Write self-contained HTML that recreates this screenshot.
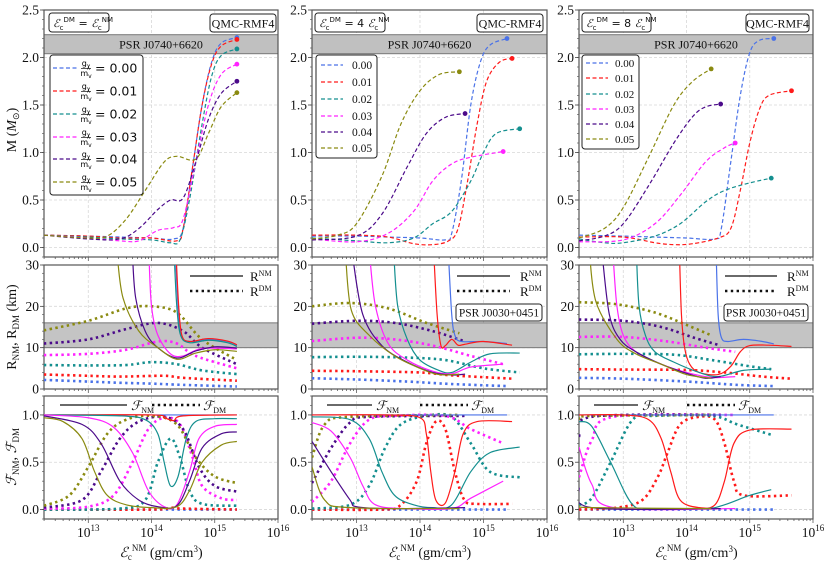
<!DOCTYPE html>
<html><head><meta charset="utf-8">
<style>
body{margin:0;background:#fff;}
svg{display:block;font-family:"Liberation Serif",serif;}
</style></head>
<body>
<svg id="fig" width="831" height="567" viewBox="0 0 831 567" xmlns="http://www.w3.org/2000/svg"></svg>
<script>
// ---------- DATA (log10 central energy density, value) ----------
const seriesLabels = ["0.00","0.01","0.02","0.03","0.04","0.05"];
const seriesColors = ["#4a72e8","#ff1a1a","#148f8f","#ff22ff","#4b0a8a","#8a8a10"];
const xTickLabels = ["13","14","15","16"];
const xTickValues = [13,14,15,16];

const massCol1 = [
 [[12.3,.13],[13,.12],[13.5,.11],[14,.10],[14.35,.09],[14.5,.2],[14.65,.85],[14.8,1.5],[14.95,1.95],[15.1,2.15],[15.35,2.21]],
 [[12.3,.13],[13,.12],[13.5,.10],[14,.10],[14.4,.07],[14.5,.2],[14.65,.85],[14.8,1.5],[14.95,1.93],[15.1,2.12],[15.35,2.19]],
 [[12.3,.13],[13,.11],[13.5,.09],[14,.08],[14.3,.05],[14.45,.08],[14.6,.5],[14.8,1.3],[14.95,1.8],[15.1,2.02],[15.35,2.09]],
 [[12.3,.13],[13,.1],[13.5,.07],[13.8,.07],[14.1,.18],[14.35,.21],[14.5,.3],[14.7,.9],[14.9,1.5],[15.1,1.82],[15.35,1.93]],
 [[12.3,.13],[13,.09],[13.5,.09],[13.8,.2],[14.1,.4],[14.3,.5],[14.5,.52],[14.7,.9],[14.9,1.35],[15.1,1.62],[15.35,1.75]],
 [[12.3,.13],[13,.1],[13.3,.12],[13.6,.3],[13.9,.6],[14.2,.9],[14.4,.96],[14.7,.93],[14.9,1.2],[15.1,1.48],[15.35,1.63]]
];
const massCol2 = [
 [[12.3,.12],[13,.12],[13.5,.11],[14,.1],[14.4,.08],[14.5,.15],[14.65,.7],[14.8,1.5],[14.95,1.95],[15.1,2.13],[15.37,2.2]],
 [[12.3,.13],[13,.13],[13.5,.11],[13.9,.04],[14.2,.03],[14.45,.07],[14.6,.2],[14.75,.7],[14.9,1.3],[15.05,1.75],[15.25,1.95],[15.45,1.99]],
 [[12.3,.1],[13,.07],[13.5,.05],[13.9,.1],[14.2,.25],[14.5,.38],[14.8,.7],[15.0,1.0],[15.2,1.2],[15.57,1.25]],
 [[12.3,.09],[13,.06],[13.5,.15],[13.9,.38],[14.2,.7],[14.5,.88],[14.8,.95],[15.31,1.01]],
 [[12.3,.08],[13,.12],[13.4,.35],[13.8,.85],[14.1,1.2],[14.4,1.37],[14.71,1.41]],
 [[12.3,.09],[12.7,.13],[13,.25],[13.4,.75],[13.7,1.3],[14.0,1.65],[14.3,1.82],[14.62,1.85]]
];
const massCol3 = [
 [[12.3,.13],[13,.12],[13.5,.11],[14,.1],[14.45,.09],[14.55,.2],[14.7,.9],[14.85,1.6],[15,2.05],[15.15,2.18],[15.38,2.2]],
 [[12.3,.11],[13,.11],[13.5,.05],[13.8,.03],[14.1,.04],[14.5,.1],[14.7,.2],[14.85,.6],[15.0,1.1],[15.15,1.45],[15.3,1.6],[15.66,1.65]],
 [[12.3,.09],[12.7,.05],[13,.05],[13.5,.12],[13.9,.25],[14.3,.48],[14.6,.6],[15.0,.68],[15.34,.73]],
 [[12.3,.06],[13,.08],[13.5,.25],[13.9,.55],[14.3,.9],[14.6,1.05],[14.77,1.1]],
 [[12.3,.07],[12.7,.12],[13,.25],[13.4,.65],[13.8,1.1],[14.1,1.38],[14.3,1.48],[14.54,1.51]],
 [[12.3,.1],[12.7,.2],[13,.42],[13.4,.95],[13.8,1.5],[14.1,1.75],[14.39,1.88]]
];
const rNMCol1 = [
 [[14.38,32],[14.42,20],[14.47,13],[14.6,11.5],[14.9,12],[15.2,11.5],[15.35,10.6]],
 [[14.39,32],[14.43,20],[14.48,13],[14.6,11.5],[14.9,12.2],[15.2,11.6],[15.35,10.7]],
 [[14.36,32],[14.4,20],[14.46,13],[14.6,11.2],[14.9,11.8],[15.2,11.2],[15.35,10.3]],
 [[13.96,32],[14.0,20],[14.1,13],[14.3,8.5],[14.5,8],[14.8,9.8],[15.35,9.7]],
 [[13.7,32],[13.75,22],[13.9,14],[14.1,10],[14.4,7.5],[14.7,9.2],[15.0,10.2],[15.35,9.9]],
 [[13.46,32],[13.55,22],[13.8,14],[14.1,10],[14.4,7.2],[14.7,8.7],[15.0,9.5],[15.35,9.1]]
];
const rDMCol1 = [
 [[12.3,2.2],[13,1.8],[13.5,1.5],[14,1.3],[14.5,1],[15.35,0.6]],
 [[12.3,3.5],[13,3.2],[13.5,3],[14.2,3.2],[14.5,2.7],[15.35,2]],
 [[12.3,5.8],[13,5.7],[13.6,5.8],[14.0,6.5],[14.4,6],[14.8,4.5],[15.35,3.6]],
 [[12.3,8.2],[13,8.5],[13.6,9.5],[14.1,11.5],[14.4,11],[14.7,8],[15.35,5]],
 [[12.3,11],[13,12],[13.6,14.5],[14.1,16],[14.5,14],[14.8,10],[15.35,6]],
 [[12.3,14.2],[13,16.5],[13.6,19.5],[14.0,20],[14.4,18.5],[14.8,12],[15.35,7]]
];
const rNMCol2 = [
 [[14.45,32],[14.5,18],[14.55,13],[14.65,11.5],[15.0,11.5],[15.37,11]],
 [[14.22,32],[14.27,18],[14.33,10.5],[14.4,10.5],[14.5,12],[14.6,10.6],[14.7,10.8],[15.0,11.5],[15.45,10.6]],
 [[13.59,32],[13.65,20],[13.8,12],[14.0,7],[14.3,4.5],[14.5,4],[14.8,6.5],[15.1,8.5],[15.57,8.7]],
 [[13.21,32],[13.3,20],[13.5,11],[13.8,7],[14.2,4.3],[14.5,3.7],[14.8,5.3],[15.31,6]],
 [[12.94,32],[13.1,18],[13.4,10.5],[13.8,6.5],[14.2,4],[14.5,3.4],[14.71,3.6]],
 [[12.83,32],[12.92,19],[13.2,13],[13.6,8],[14.0,5],[14.3,3.5],[14.62,3.6]]
];
const rDMCol2 = [
 [[12.3,2.6],[13,2.3],[13.8,1.8],[14.5,1.2],[15.37,0.7]],
 [[12.3,4.4],[13,4.3],[14,4],[14.5,3.3],[15.45,2.5]],
 [[12.3,7.7],[13,7.8],[13.8,7.6],[14.4,7],[15,5],[15.57,4]],
 [[12.3,11.6],[13,12.4],[13.6,12],[14.2,10.5],[14.8,8],[15.31,6]],
 [[12.3,15.8],[13,16.5],[13.6,16],[14.2,14],[14.71,11.5]],
 [[12.3,20],[12.9,20.8],[13.5,19.5],[14.1,16],[14.62,13.5]]
];
const rNMCol3 = [
 [[14.47,32],[14.5,18],[14.55,12.5],[14.65,11.5],[14.9,12],[15.2,11.5],[15.38,10.9]],
 [[13.89,32],[13.92,18],[13.97,10],[14.05,6],[14.2,4],[14.5,3.5],[14.7,5.5],[14.85,9],[15.0,10.5],[15.3,10.6],[15.66,10.3]],
 [[13.21,32],[13.25,20],[13.35,13],[13.5,9],[13.8,6.5],[14.2,4],[14.5,3],[14.9,4.5],[15.34,4.8]],
 [[12.84,32],[12.9,20],[13,13],[13.2,9],[13.6,6],[14.0,4],[14.4,2.8],[14.77,3]],
 [[12.67,32],[12.78,18],[12.95,12],[13.2,9],[13.6,6],[14,3.8],[14.3,2.6],[14.54,3]],
 [[12.47,32],[12.57,21],[12.9,12],[13.2,8.5],[13.6,6],[14,3.5],[14.39,2.6]]
];
const rDMCol3 = [
 [[12.3,2.7],[13,2.5],[14,1.8],[14.8,1],[15.38,0.7]],
 [[12.3,4.8],[13,4.7],[14,4.6],[14.6,4],[15.2,3],[15.66,2.5]],
 [[12.3,8.4],[13,8.5],[13.8,8.3],[14.4,7],[15,5.5],[15.34,4.8]],
 [[12.3,12.6],[13,12.6],[13.7,11.5],[14.3,10],[14.77,9]],
 [[12.3,16.8],[13,16.5],[13.6,15],[14.1,12.5],[14.54,10.5]],
 [[12.3,21],[12.9,20.5],[13.5,18.5],[14,15.5],[14.39,13]]
];
const fNMCol1 = [
 [[12.3,1],[15.35,1]],
 [[12.3,1],[14,1],[14.2,.97],[14.35,.94],[14.5,.99],[15.35,1]],
 [[12.3,1],[13.5,.99],[13.9,.95],[14.1,.8],[14.2,.5],[14.3,.25],[14.42,.35],[14.55,.75],[14.7,.93],[15,.96],[15.35,.96]],
 [[12.3,1],[13,.97],[13.4,.87],[13.7,.6],[13.95,.2],[14.2,.03],[14.4,.05],[14.6,.4],[14.75,.75],[15,.88],[15.35,.9]],
 [[12.3,.99],[12.9,.9],[13.2,.7],[13.5,.3],[13.8,.1],[14.1,.03],[14.4,.04],[14.6,.3],[14.8,.65],[15.1,.8],[15.35,.82]],
 [[12.3,.97],[12.6,.93],[12.9,.75],[13.1,.4],[13.3,.15],[13.6,.05],[14,.02],[14.4,.03],[14.6,.2],[14.8,.5],[15.1,.68],[15.35,.72]]
];
const fDMCol1 = [
 [[12.3,0],[15.35,0]],
 [[12.3,0],[14,0],[14.3,.02],[14.5,.01],[15.35,0]],
 [[12.3,0],[13.5,.01],[13.9,.1],[14.1,.5],[14.3,.75],[14.45,.55],[14.6,.2],[14.8,.06],[15.35,.04]],
 [[12.3,.01],[13,.03],[13.4,.15],[13.7,.5],[13.95,.85],[14.2,.97],[14.45,.9],[14.65,.55],[14.8,.25],[15.1,.12],[15.35,.1]],
 [[12.3,.02],[12.9,.1],[13.2,.4],[13.5,.75],[13.8,.93],[14.2,.98],[14.5,.85],[14.75,.45],[15.0,.25],[15.35,.19]],
 [[12.3,.04],[12.7,.15],[13.0,.45],[13.3,.8],[13.6,.95],[14.0,.99],[14.4,.9],[14.7,.55],[15.0,.35],[15.35,.28]]
];
const fNMCol2 = [
 [[12.3,1],[15.37,1]],
 [[12.3,1],[13.5,1],[14.0,.97],[14.1,.8],[14.17,.4],[14.25,.1],[14.4,.07],[14.55,.4],[14.68,.8],[14.9,.93],[15.45,.93]],
 [[12.3,.98],[12.9,.95],[13.2,.75],[13.4,.4],[13.6,.15],[13.9,.05],[14.2,.02],[14.5,.05],[14.8,.4],[15.1,.6],[15.57,.66]],
 [[12.3,.92],[12.6,.83],[12.9,.55],[13.1,.25],[13.3,.05],[13.8,.01],[14.5,.01],[14.8,.12],[15.31,.3]],
 [[12.3,.72],[12.6,.4],[12.9,.1],[13.0,.03],[13.5,.01],[14.71,.02]],
 [[12.3,.45],[12.5,.1],[12.9,.02],[14.62,.01]]
];
const fDMCol2 = [
 [[12.3,0],[15.37,0]],
 [[12.3,0],[13.4,0],[13.7,.05],[13.95,.3],[14.1,.7],[14.25,.93],[14.4,.85],[14.55,.4],[14.7,.1],[14.9,.06],[15.45,.06]],
 [[12.3,.01],[12.9,.05],[13.2,.25],[13.45,.65],[13.7,.9],[14.1,.99],[14.5,.98],[14.8,.7],[15.1,.4],[15.57,.34]],
 [[12.3,.08],[12.6,.3],[12.9,.7],[13.2,.95],[13.6,.99],[14.4,.99],[14.8,.85],[15.31,.7]],
 [[12.3,.28],[12.6,.65],[12.9,.92],[13.2,.98],[14.71,.99]],
 [[12.3,.55],[12.5,.9],[12.9,.98],[14.62,1]]
];
const fNMCol3 = [
 [[12.3,1],[15.38,1]],
 [[12.3,1],[13.0,1],[13.4,.95],[13.6,.75],[13.75,.4],[13.9,.1],[14.2,.02],[14.45,.05],[14.6,.3],[14.75,.7],[15.0,.84],[15.66,.85]],
 [[12.3,.93],[12.5,.88],[12.8,.5],[13.15,.05],[13.5,.01],[14.3,.01],[14.6,.05],[15.0,.15],[15.34,.21]],
 [[12.3,.66],[12.5,.27],[12.85,.02],[14.77,.01]],
 [[12.3,.23],[12.5,.02],[14.54,.01]],
 [[12.3,.04],[12.5,.02],[14.39,.01]]
];
const fDMCol3 = [
 [[12.3,0],[15.38,0]],
 [[12.3,0],[12.9,.02],[13.3,.1],[13.55,.35],[13.7,.6],[13.9,.9],[14.2,.98],[14.45,.95],[14.6,.7],[14.75,.3],[14.9,.15],[15.66,.15]],
 [[12.3,.05],[12.5,.12],[12.8,.5],[13.15,.95],[13.5,.99],[14.4,.99],[14.8,.9],[15.34,.79]],
 [[12.3,.34],[12.5,.73],[12.85,.98],[14.77,1]],
 [[12.3,.77],[12.5,.98],[14.54,1]],
 [[12.3,.96],[12.5,.99],[14.39,1]]
];

// ---------- LAYOUT ----------
const NS="http://www.w3.org/2000/svg";
const svg=document.getElementById('fig');
const cols=[{x0:44,x1:278},{x0:312,x1:547},{x0:579,x1:813}];
const rows=[{y0:10,y1:257,min:-0.1,max:2.5},{y0:265,y1:389,min:0,max:30},{y0:396,y1:519,min:-0.1,max:1.2}];
const XMIN=12.3, XMAX=16;
function xs(c,v){return cols[c].x0+(v-XMIN)/(XMAX-XMIN)*(cols[c].x1-cols[c].x0);}
function ys(r,v){const R=rows[r];return R.y1-(v-R.min)/(R.max-R.min)*(R.y1-R.y0);}
function mk(tag,attrs,parent){const e=document.createElementNS(NS,tag);for(const k in attrs)e.setAttribute(k,attrs[k]);(parent||svg).appendChild(e);return e;}
function txt(x,y,s,attrs,parent){const t=mk('text',Object.assign({x:x,y:y},attrs||{}),parent);t.innerHTML=s;return t;}
function pathD(pts){
  let d=`M${pts[0][0].toFixed(2)},${pts[0][1].toFixed(2)}`;
  for(let i=0;i<pts.length-1;i++){
    const p0=pts[i-1]||pts[i],p1=pts[i],p2=pts[i+1],p3=pts[i+2]||p2;
    const c1=[p1[0]+(p2[0]-p0[0])/6,p1[1]+(p2[1]-p0[1])/6];
    const c2=[p2[0]-(p3[0]-p1[0])/6,p2[1]-(p3[1]-p1[1])/6];
    d+=`C${c1[0].toFixed(2)},${c1[1].toFixed(2)} ${c2[0].toFixed(2)},${c2[1].toFixed(2)} ${p2[0].toFixed(2)},${p2[1].toFixed(2)}`;
  }
  return d;
}
const defs=mk('defs',{});
for(let c=0;c<3;c++)for(let r=0;r<3;r++){
  const cp=mk('clipPath',{id:`clip${c}${r}`},defs);
  mk('rect',{x:cols[c].x0,y:rows[r].y0,width:cols[c].x1-cols[c].x0,height:rows[r].y1-rows[r].y0},cp);
}
const yTicks=[[0,0.5,1,1.5,2,2.5],[0,10,20,30],[0,0.5,1]];
const yTickText=[["0.0","0.5","1.0","1.5","2.0","2.5"],["0","10","20","30"],["0.0","0.5","1.0"]];
const yMinorStep=[0.1,2,0.1];

for(let c=0;c<3;c++)for(let r=0;r<3;r++){
  const g=mk('g',{});
  
  
  const X0=cols[c].x0,X1=cols[c].x1,Y0=rows[r].y0,Y1=rows[r].y1;
  // grid
  xTickValues.forEach(v=>{if(v<XMAX)mk('line',{x1:xs(c,v),x2:xs(c,v),y1:Y0,y2:Y1,stroke:'#d8d8d8','stroke-width':0.8,'stroke-dasharray':'3,2'},g);});
  yTicks[r].forEach(v=>{if(v>rows[r].min&&v<rows[r].max)mk('line',{x1:X0,x2:X1,y1:ys(r,v),y2:ys(r,v),stroke:'#d8d8d8','stroke-width':0.8,'stroke-dasharray':'3,2'},g);});
  // bands
  if(r===0){
    const b=mk('rect',{x:X0,y:ys(0,2.24),width:X1-X0,height:ys(0,2.04)-ys(0,2.24),fill:'#c0c0c0',stroke:'#777','stroke-width':1},g);
    
    
    const t=txt((X0+X1)/2,ys(0,2.14)+4.5,'PSR J0740+6620',{'text-anchor':'middle','font-size':12,fill:'#111'},g);
    
    
  }
  if(r===1){
    const b=mk('rect',{x:X0,y:ys(1,16),width:X1-X0,height:ys(1,10)-ys(1,16),fill:'#c4c4c4',stroke:'#777','stroke-width':1},g);
    
    
  }
  // ticks
  for(let d=12;d<16;d++)for(let k=1;k<10;k++){const v=d+Math.log10(k);if(v<XMIN||v>XMAX)continue;
    mk('line',{x1:xs(c,v),x2:xs(c,v),y1:Y1,y2:Y1+(k===1?4:2),stroke:'#444','stroke-width':0.7},g);}
  mk('line',{x1:xs(c,16),x2:xs(c,16),y1:Y1,y2:Y1+4,stroke:'#444','stroke-width':0.7},g);
  for(let v=rows[r].min;v<=rows[r].max+1e-6;v+=yMinorStep[r]){mk('line',{x1:X0-2,x2:X0,y1:ys(r,v),y2:ys(r,v),stroke:'#444','stroke-width':0.6},g);}
  yTicks[r].forEach((v,i)=>{
    mk('line',{x1:X0-4,x2:X0,y1:ys(r,v),y2:ys(r,v),stroke:'#444','stroke-width':0.8},g);
    const t=txt(X0-5,ys(r,v)+4.5,yTickText[r][i],{'text-anchor':'end','font-size':13.5,fill:'#111'},g);
    
    
  });
  if(r===2){
    xTickValues.forEach((v,i)=>{
      const t=txt(xs(c,v),537,`10<tspan dy="-6" font-size="9">${xTickLabels[i]}</tspan>`,{'text-anchor':'middle','font-size':13.5,fill:'#111'},g);
      
      
    });
    const xl=txt((X0+X1)/2,557,`<tspan font-style="italic">ℰ</tspan><tspan font-size="9" dy="3">c</tspan><tspan font-size="9" dy="-9">NM</tspan><tspan dy="6"> (gm/cm</tspan><tspan font-size="9" dy="-5">3</tspan><tspan dy="5">)</tspan>`,{'text-anchor':'middle','font-size':14,fill:'#111'},g);
    
    
  }
  mk('rect',{x:X0,y:Y0,width:X1-X0,height:Y1-Y0,fill:'none',stroke:'#555','stroke-width':1.2},g);
}

// ---------- SERIES ----------
const massCols=[massCol1,massCol2,massCol3];
const rNM=[rNMCol1,rNMCol2,rNMCol3], rDM=[rDMCol1,rDMCol2,rDMCol3];
const fNM=[fNMCol1,fNMCol2,fNMCol3], fDM=[fDMCol1,fDMCol2,fDMCol3];
function drawSeries(c,r,data,style,nameBase){
  const g=mk('g',{'clip-path':`url(#clip${c}${r})`});
  data.forEach((ser,i)=>{
    const pts=ser.map(p=>[xs(c,p[0]),ys(r,p[1])]);
    const a={d:pathD(pts),fill:'none',stroke:seriesColors[i]};
    if(style==='dash'){a['stroke-width']=1.2;a['stroke-dasharray']='4,2.5';}
    else if(style==='dot'){a['stroke-width']=2.6;a['stroke-dasharray']='2.4,3.4';}
    else{a['stroke-width']=1.2;}
    const p=mk('path',a,g);
    
    
  });
}
for(let c=0;c<3;c++){
  drawSeries(c,1,rDM[c],'dot','radius-dm');
  drawSeries(c,1,rNM[c],'solid','radius-nm');
  drawSeries(c,2,fDM[c],'dot','fraction-dm');
  drawSeries(c,2,fNM[c],'solid','fraction-nm');
  drawSeries(c,0,massCols[c],'dash','mass-curve');
  massCols[c].forEach((ser,i)=>{
    const last=ser[ser.length-1];
    const m=mk('circle',{cx:xs(c,last[0]),cy:ys(0,last[1]),r:2.4,fill:seriesColors[i]});
    
    
  });
}

// ---------- LEGENDS & ANNOTATIONS ----------
function box(x,y,w,h,name,rx){const b=mk('rect',{x:x,y:y,width:w,height:h,rx:rx||3,fill:'#fff',stroke:'#222','stroke-width':1});
  return b;}
// col1 legend
box(50,55,93,140,'mass-legend-col1');
[68,91,114,137,159,182].forEach((y,i)=>{
  mk('line',{x1:53,x2:77,y1:y,y2:y,stroke:seriesColors[i],'stroke-width':1.3,'stroke-dasharray':'4,2.5'});
  const t1=txt(86,y-2,'g<tspan font-size="6" dy="2">χ</tspan>',{'text-anchor':'middle','font-size':8,'font-family':'DejaVu Sans, sans-serif'});
  mk('line',{x1:81,x2:91,y1:y+0.5,y2:y+0.5,stroke:'#111','stroke-width':0.7});
  txt(86,y+8,'m<tspan font-size="6" dy="2">v</tspan>',{'text-anchor':'middle','font-size':8,'font-family':'DejaVu Sans, sans-serif'});
  const t=txt(95,y+4.5,'= '+seriesLabels[i],{'font-size':12.5,'font-family':'DejaVu Sans, sans-serif',fill:'#111'});
  
});
// col2 legend
box(316,55,61,103,'mass-legend-col2');
[65,82,99,116,132,148].forEach((y,i)=>{
  mk('line',{x1:321,x2:343,y1:y,y2:y,stroke:seriesColors[i],'stroke-width':1.3,'stroke-dasharray':'4,2.5'});
  const t=txt(352,y+4,seriesLabels[i],{'font-size':11.5,fill:'#111'});
  
});
// col3 legend
box(582,55,57,94,'mass-legend-col3');
[63,78,94,109,124,139].forEach((y,i)=>{
  mk('line',{x1:586,x2:608,y1:y,y2:y,stroke:seriesColors[i],'stroke-width':1.3,'stroke-dasharray':'4,2.5'});
  const t=txt(615,y+4,seriesLabels[i],{'font-size':11,fill:'#111'});
  
});
// top-left condition boxes
const eq=['= ','= 4 ','= 8 '];
const eqBox=[[49,13,60],[315,13,70],[582,13,69]];
eqBox.forEach((b,c)=>{
  box(b[0],b[1],b[2],19,'condition-label-box');
  const t=txt(b[0]+4,b[1]+14,`<tspan font-style="italic" font-family="Liberation Serif, serif">ℰ</tspan><tspan font-size="7" dy="3">c</tspan><tspan font-size="7" dy="-8">DM</tspan><tspan dy="5"> ${eq[c]}</tspan><tspan font-style="italic" font-family="Liberation Serif, serif">ℰ</tspan><tspan font-size="7" dy="3">c</tspan><tspan font-size="7" dy="-8">NM</tspan>`,{'font-size':11,'font-family':'DejaVu Sans, sans-serif',fill:'#111'});
  
});
[[210,276],[477,543],[746,809]].forEach(b=>{
  box(b[0],14,b[1]-b[0],18,'model-label-box');
  const t=txt((b[0]+b[1])/2,27.5,'QMC-RMF4',{'text-anchor':'middle','font-size':12,fill:'#111'});
  
});
// radius legends
[[190,243,250],[457,510,520],[725,777,787]].forEach(L=>{
  mk('line',{x1:L[0],x2:L[1],y1:276,y2:276,stroke:'#111','stroke-width':1.3});
  mk('line',{x1:L[0],x2:L[1],y1:291,y2:291,stroke:'#111','stroke-width':2.4,'stroke-dasharray':'2.4,3.4'});
  const a=txt(L[2],281,'R<tspan font-size="8" dy="-5">NM</tspan>',{'font-size':13,fill:'#111'});
  
  const b=txt(L[2],296,'R<tspan font-size="8" dy="-5">DM</tspan>',{'font-size':13,fill:'#111'});
  
});
[[456,542],[724,808]].forEach(b=>{
  box(b[0],304,b[1]-b[0],17,'psr-j0030-label-box');
  const t=txt((b[0]+b[1])/2,316.5,'PSR J0030+0451',{'text-anchor':'middle','font-size':11.5,fill:'#111'});
  
});
// fraction legends
[[60,127,131,152,200,203],[327,372,376,420,468,471],[594,638,642,687,735,738]].forEach(L=>{
  mk('line',{x1:L[0],x2:L[1],y1:405,y2:405,stroke:'#111','stroke-width':1.3});
  mk('line',{x1:L[3],x2:L[4],y1:405,y2:405,stroke:'#111','stroke-width':2.4,'stroke-dasharray':'2.4,3.4'});
  const a=txt(L[2],410,'<tspan font-style="italic">ℱ</tspan><tspan font-size="8" dy="3">NM</tspan>',{'font-size':13,fill:'#111'});
  
  const b=txt(L[5],410,'<tspan font-style="italic">ℱ</tspan><tspan font-size="8" dy="3">DM</tspan>',{'font-size':13,fill:'#111'});
  
});
// y axis titles
const yt1=txt(0,0,'M (<tspan font-style="italic">M</tspan><tspan font-size="9" dy="3">⊙</tspan><tspan dy="-3">)</tspan>',{'text-anchor':'middle','font-size':14,fill:'#111',transform:'translate(16,130) rotate(-90)'});

const yt2=txt(0,0,'R<tspan font-size="9" dy="3">NM</tspan><tspan dy="-3">, R</tspan><tspan font-size="9" dy="3">DM</tspan><tspan dy="-3"> (km)</tspan>',{'text-anchor':'middle','font-size':14,fill:'#111',transform:'translate(16,327) rotate(-90)'});

const yt3=txt(0,0,'<tspan font-style="italic">ℱ</tspan><tspan font-size="9" dy="3">NM</tspan><tspan dy="-3">, </tspan><tspan font-style="italic">ℱ</tspan><tspan font-size="9" dy="3">DM</tspan>',{'text-anchor':'middle','font-size':14,fill:'#111',transform:'translate(16,457) rotate(-90)'});

</script>
</body></html>
